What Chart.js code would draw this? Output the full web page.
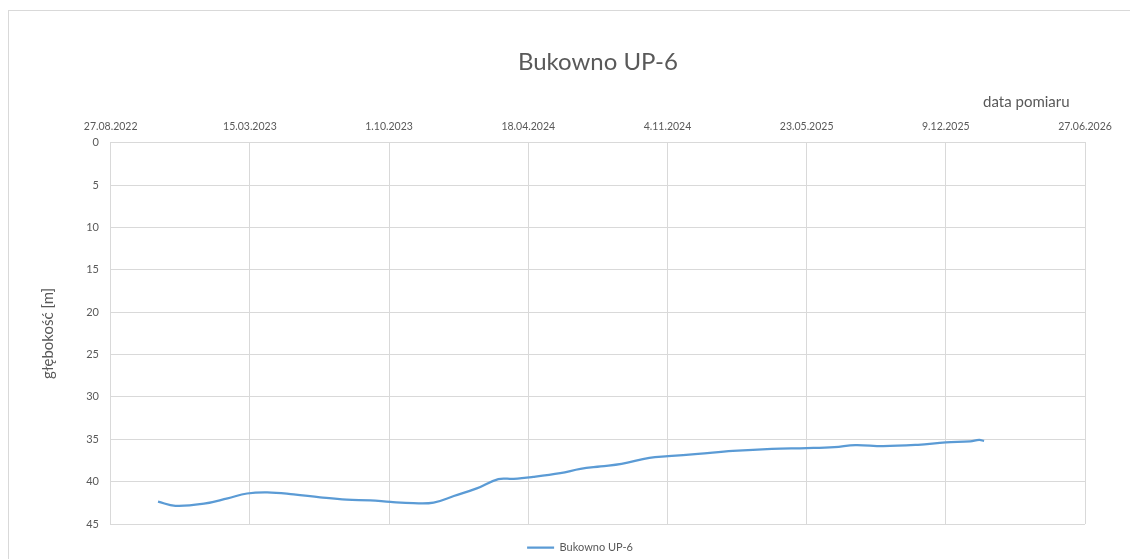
<!DOCTYPE html>
<html>
<head>
<meta charset="utf-8">
<script src="https://cdn.jsdelivr.net/npm/chart.js@4.4.1/dist/chart.umd.min.js"></script>
<style>
  html, body { margin: 0; padding: 0; background: #ffffff; overflow: hidden; width: 1130px; height: 559px; }
  #frame { position: absolute; left: 8px; top: 10px; width: 1200px; height: 700px; border: 1px solid #d9d9d9; box-sizing: border-box; }
  #wrap { position: absolute; left: 0; top: 0; width: 1130px; height: 580px; }
</style>
</head>
<body>
<div id="frame"></div>
<div id="wrap"><canvas id="c" width="1130" height="580"></canvas></div>
<script>
const chartTitle = 'Bukowno UP-6';
const seriesName = 'Bukowno UP-6';
const xAxisTitle = 'data pomiaru';
const yAxisTitle = 'głębokość [m]';

const xTickLabels = ['27.08.2022', '15.03.2023', '1.10.2023', '18.04.2024', '4.11.2024', '23.05.2025', '9.12.2025', '27.06.2026'];

const measureDates = [
  '2022-11-03', '2022-11-28', '2023-01-08', '2023-02-11', '2023-03-11', '2023-04-09',
  '2023-05-17', '2023-06-24', '2023-08-01', '2023-09-04', '2023-10-03', '2023-11-05',
  '2023-12-04', '2024-01-02', '2024-02-04', '2024-03-06', '2024-03-28', '2024-04-25',
  '2024-06-03', '2024-07-02', '2024-07-31', '2024-08-30', '2024-10-09', '2024-11-05',
  '2024-12-18', '2025-02-06', '2025-04-03', '2025-05-23', '2025-07-02', '2025-08-01',
  '2025-09-10', '2025-10-30', '2025-12-09', '2026-01-13', '2026-01-26', '2026-02-02'
];

const depthValues = [
  42.37, 42.85, 42.6, 41.97, 41.4, 41.26,
  41.5, 41.85, 42.13, 42.2, 42.4, 42.55,
  42.48, 41.7, 40.8, 39.7, 39.68, 39.45,
  39.0, 38.5, 38.2, 37.9, 37.2, 37.0,
  36.73, 36.38, 36.13, 36.05, 35.93, 35.68,
  35.81, 35.65, 35.37, 35.25, 35.08, 35.2
];

const yMin = 0, yMax = 45, yStep = 5;

function dmyToMs(s) { const p = s.split('.').map(Number); return Date.UTC(p[2], p[1] - 1, p[0]); }
function isoToMs(s) { const p = s.split('-').map(Number); return Date.UTC(p[0], p[1] - 1, p[2]); }

const xTickValues = xTickLabels.map(dmyToMs);
const points = measureDates.map((d, i) => ({ x: isoToMs(d), y: depthValues[i] }));

const txt = '#595959';
const gridC = '#d9d9d9';
Chart.defaults.font.family = 'Lato, "Open Sans", sans-serif';

// Center the title over the plot area and shift the legend like the Excel original
const placeBlocks = {
  id: 'placeBlocks',
  afterLayout(chart) {
    const ca = chart.chartArea;
    const t = chart.titleBlock;
    if (t) {
      const s = (ca.left + ca.right) / 2 - (t.left + t.right) / 2;
      t.left += s; t.right += s;
    }
    const l = chart.legend;
    if (l) {
      const s2 = 580 - (l.left + l.right) / 2;
      l.left += s2; l.right += s2;
    }
  }
};

new Chart(document.getElementById('c'), {
  type: 'line',
  data: {
    datasets: [{
      label: seriesName,
      data: points,
      borderColor: '#5b9bd5',
      backgroundColor: '#5b9bd5',
      borderWidth: 2.25,
      pointRadius: 0,
      pointHoverRadius: 0,
      tension: 0.4,
      fill: false
    }]
  },
  plugins: [placeBlocks],
  options: {
    responsive: false,
    animation: false,
    layout: { padding: { left: 0, right: 45, top: 0, bottom: 17 } },
    plugins: {
      title: {
        display: true,
        text: chartTitle,
        color: txt,
        font: { size: 24, weight: 'normal' },
        padding: { top: 47.6, bottom: 0 }
      },
      legend: {
        position: 'bottom',
        labels: {
          usePointStyle: true,
          pointStyle: 'line',
          pointStyleWidth: 27,
          color: txt,
          font: { size: 11 },
          padding: 18
        }
      },
      tooltip: { enabled: false }
    },
    scales: {
      x: {
        type: 'linear',
        position: 'top',
        min: xTickValues[0],
        max: xTickValues[xTickValues.length - 1],
        afterBuildTicks: (s) => { s.ticks = xTickValues.map(v => ({ value: v })); },
        afterFit: (s) => { s.height = 66.3; },
        ticks: {
          color: txt,
          font: { size: 10.5 },
          padding: 9.4,
          maxRotation: 0,
          autoSkip: false,
          callback: (v, i) => xTickLabels[i]
        },
        grid: { color: gridC, drawTicks: false },
        border: { color: gridC },
        title: {
          display: true,
          text: xAxisTitle + '\u00a0\u00a0\u00a0\u00a0',
          align: 'end',
          color: txt,
          font: { size: 15 },
          padding: { top: 16.9, bottom: 0 }
        }
      },
      y: {
        reverse: true,
        min: yMin,
        max: yMax,
        afterFit: (s) => { s.width = 110.7; },
        ticks: { stepSize: yStep, color: txt, font: { size: 11 }, padding: 11.7 },
        grid: { color: gridC, drawTicks: false },
        border: { color: gridC },
        title: {
          display: true,
          text: yAxisTitle,
          color: txt,
          font: { size: 15 },
          padding: { top: 39.2, bottom: 0 }
        }
      }
    }
  }
});
</script>
</body>
</html>
